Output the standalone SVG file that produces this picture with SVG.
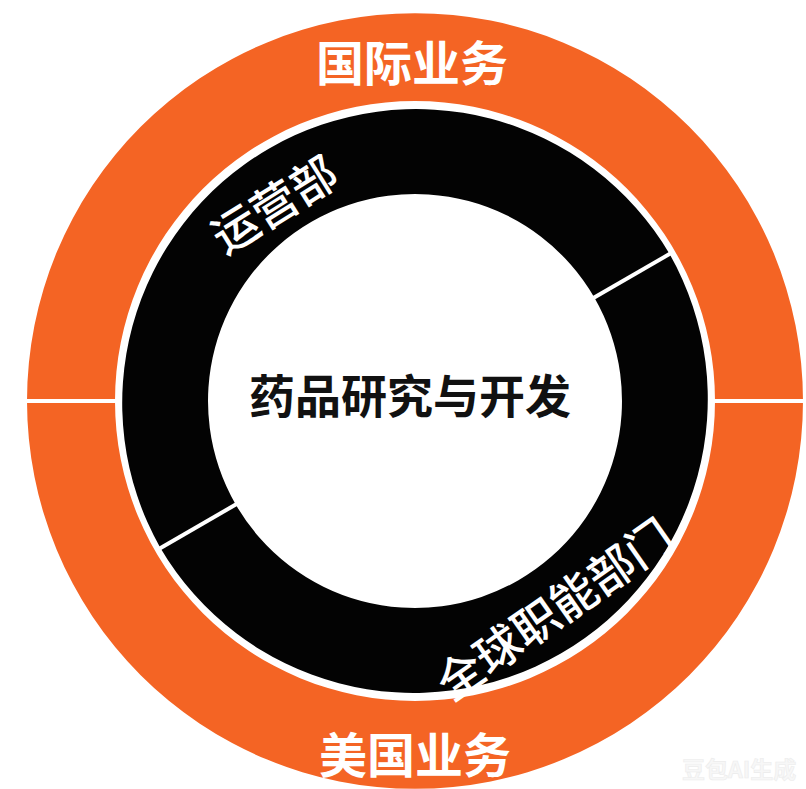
<svg xmlns="http://www.w3.org/2000/svg" width="806" height="789" viewBox="0 0 806 789">
  <style>
    .orange { fill: #F46424; }
    .black { fill: #030303; }
    .lbl { font-family: "Noto Sans CJK SC", "Noto Sans", sans-serif; text-anchor: middle; dominant-baseline: central; }
    .white { fill: #FFFFFF; font-weight: 500; font-size: 48px; }
    .big { font-weight: 600; }
    .ring { font-size: 46px; }
    .center { fill: #111111; font-weight: 700; font-size: 46px; }
    .div { stroke: #FFFFFF; stroke-width: 4; fill: none; }
    .wm { font-family: "Noto Sans CJK SC", sans-serif; font-size: 23px; fill: #F7F7F7; stroke: #ECECEC; stroke-width: 0.6; font-weight: 700; }
  </style>
  <rect x="0" y="0" width="806" height="789" fill="#FFFFFF"/>

  <g id="intl">
    <path class="orange" d="M 27,401 A 388 388 0 0 1 803,401 L 715,401 A 300 300 0 0 0 115,401 Z"/>
    <text class="lbl white big" x="412" y="60">国际业务</text>
  </g>

  <g id="us">
    <path class="orange" d="M 27,401 A 388 388 0 0 0 803,401 L 715,401 A 300 300 0 0 1 115,401 Z"/>
    <text class="lbl white big" x="415" y="752">美国业务</text>
  </g>

  <g id="ops">
    <path class="black" d="M 160.4,548 A 294 294 0 0 1 669.6,254 L 594.3,297.5 A 207 207 0 0 0 235.7,504.5 Z"/>
    <text class="lbl white ring" transform="translate(273,202) rotate(-32)" x="0" y="0">运营部</text>
  </g>

  <g id="global-func">
    <path class="black" d="M 669.6,254 A 294 294 0 0 1 160.4,548 L 235.7,504.5 A 207 207 0 0 0 594.3,297.5 Z"/>
    <text class="lbl white ring" transform="translate(553,607) rotate(-35)" x="0" y="0">全球职能部门</text>
  </g>

  <g id="rd">
    <circle cx="415" cy="401" r="205" fill="#FFFFFF"/>
    <text class="lbl center" x="410" y="393">药品研究与开发</text>
  </g>

  <g id="connectors">
    <line class="div" x1="22" y1="401" x2="118" y2="401"/>
    <line class="div" x1="712" y1="401" x2="806" y2="401"/>
    <line class="div" x1="592.5" y1="298.5" x2="672" y2="252.6"/>
    <line class="div" x1="237.5" y1="503.5" x2="158" y2="549.4"/>
  </g>

  <text class="wm" x="682" y="778">豆包AI生成</text>
</svg>
